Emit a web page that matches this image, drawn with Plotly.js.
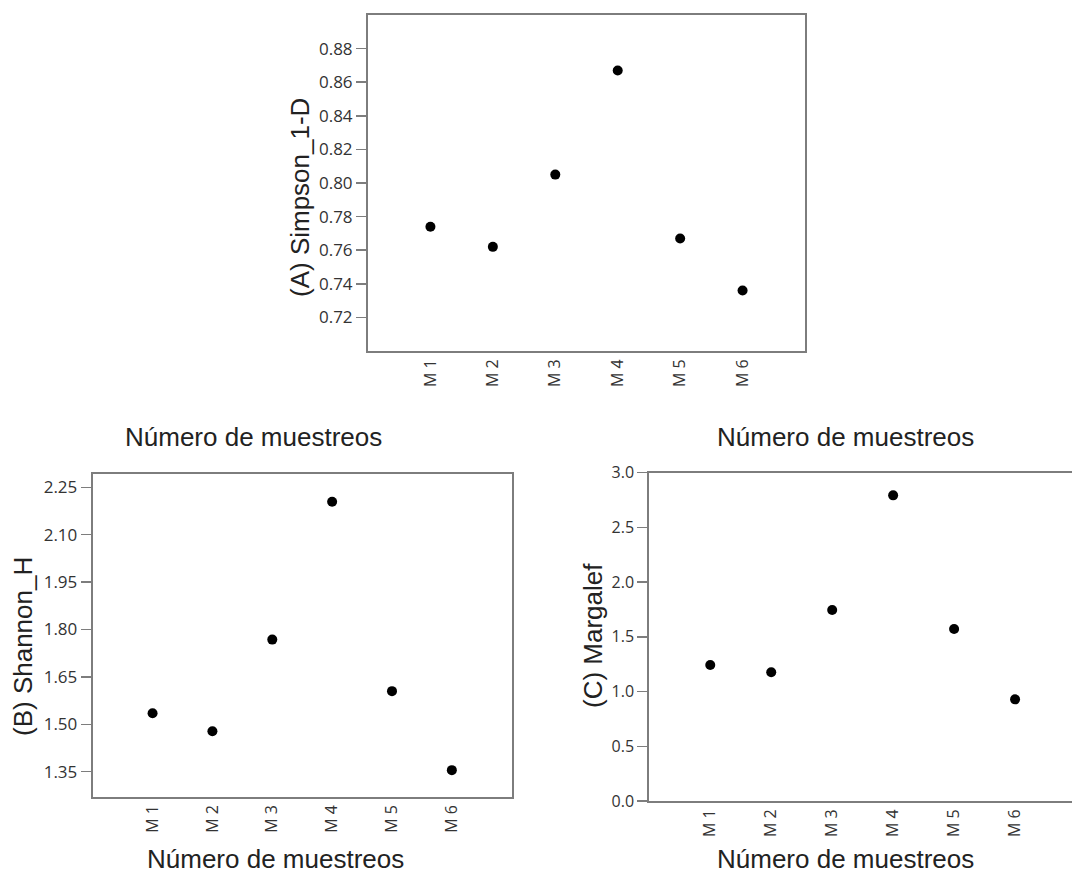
<!DOCTYPE html>
<html>
<head>
<meta charset="utf-8">
<script src="https://cdn.plot.ly/plotly-3.0.1.min.js"></script>
<style>html,body{margin:0;padding:0;background:#fff;}#chart{width:1072px;height:877px;}</style>
</head>
<body>
<div id="chart"></div>
<script>
const categories = ['M 1', 'M 2', 'M 3', 'M 4', 'M 5', 'M 6'];
const simpson = [0.774, 0.762, 0.805, 0.867, 0.767, 0.736];
const shannon = [1.535, 1.478, 1.768, 2.204, 1.605, 1.355];
const margalef = [1.243, 1.176, 1.745, 2.793, 1.572, 0.929];
const simpsonTicks = [0.72, 0.74, 0.76, 0.78, 0.80, 0.82, 0.84, 0.86, 0.88];
const shannonTicks = [1.35, 1.50, 1.65, 1.80, 1.95, 2.10, 2.25];
const margalefTicks = [0.0, 0.5, 1.0, 1.5, 2.0, 2.5, 3.0];
const xTitle = 'Número de muestreos';
const yTitles = ['(A) Simpson_1-D', '(B) Shannon_H', '(C) Margalef'];

const W = 1072, H = 877;
const px = v => v / W;
const py = v => 1 - v / H;

const marker = {color: '#000', size: 10};
const traces = [
  {x: categories, y: simpson, type: 'scatter', mode: 'markers', marker: marker, xaxis: 'x', yaxis: 'y', hoverinfo: 'x+y'},
  {x: categories, y: shannon, type: 'scatter', mode: 'markers', marker: marker, xaxis: 'x2', yaxis: 'y2', hoverinfo: 'x+y'},
  {x: categories, y: margalef, type: 'scatter', mode: 'markers', marker: marker, xaxis: 'x3', yaxis: 'y3', hoverinfo: 'x+y'}
];

const lineCol = '#7d7d7d';
const tickFontX = {family: 'Open Sans, DejaVu Sans, sans-serif', size: 16, color: '#333'};
const tickFontY = {family: 'Open Sans, DejaVu Sans, sans-serif', size: 17, color: '#333'};
function xax(domain, anchor, range) {
  return {
    domain: domain, anchor: anchor, type: 'category', range: range,
    showline: true, linecolor: lineCol, linewidth: 2, mirror: true,
    showgrid: false, zeroline: false, ticks: '', tickangle: -90,
    tickfont: tickFontX, fixedrange: true
  };
}
function yax(domain, anchor, range, vals, fmt, mirror, font) {
  return {
    domain: domain, anchor: anchor, range: range,
    tickvals: vals, tickformat: fmt,
    showline: true, linecolor: lineCol, linewidth: 2, mirror: mirror,
    showgrid: false, zeroline: false, ticks: 'outside', ticklen: 10,
    tickwidth: 1.5, tickcolor: lineCol, tickfont: font, fixedrange: true
  };
}

const titleFont = {family: 'Liberation Sans, Arial, sans-serif', size: 26, color: '#222'};
function ann(text, x, y, angle, yanchor) {
  return {text: text, xref: 'paper', yref: 'paper', x: px(x), y: py(y),
          xanchor: 'center', yanchor: yanchor || 'middle', showarrow: false,
          textangle: angle || 0, font: titleFont};
}

const layout = {
  width: W, height: H,
  margin: {l: 0, r: 0, t: 0, b: 0},
  paper_bgcolor: '#fff', plot_bgcolor: '#fff',
  showlegend: false,
  xaxis: xax([px(368), px(805)], 'y', [-1, 6]),
  yaxis: yax([py(351), py(15)], 'x', [0.70, 0.90], simpsonTicks, '.2f', true, tickFontY),
  xaxis2: xax([px(92.7), px(511.7)], 'y2', [-1, 6]),
  yaxis2: yax([py(796.7), py(474)], 'x2', [1.271, 2.292], shannonTicks, '.2f', true, tickFontY),
  xaxis3: xax([px(649.3), 1], 'y3', [-1, 5.934]),
  yaxis3: yax([py(801), py(472.7)], 'x3', [0, 3], margalefTicks, '.1f', false, tickFontX),
  annotations: [
    ann(xTitle, 253, 437),
    ann(xTitle, 845, 437),
    ann(xTitle, 275, 876, 0, 'bottom'),
    ann(xTitle, 845, 876, 0, 'bottom'),
    ann(yTitles[0], 300, 198, -90),
    ann(yTitles[1], 23, 647, -90),
    ann(yTitles[2], 593, 635, -90)
  ]
};

Plotly.newPlot('chart', traces, layout, {displayModeBar: false, staticPlot: true});
</script>
</body>
</html>
